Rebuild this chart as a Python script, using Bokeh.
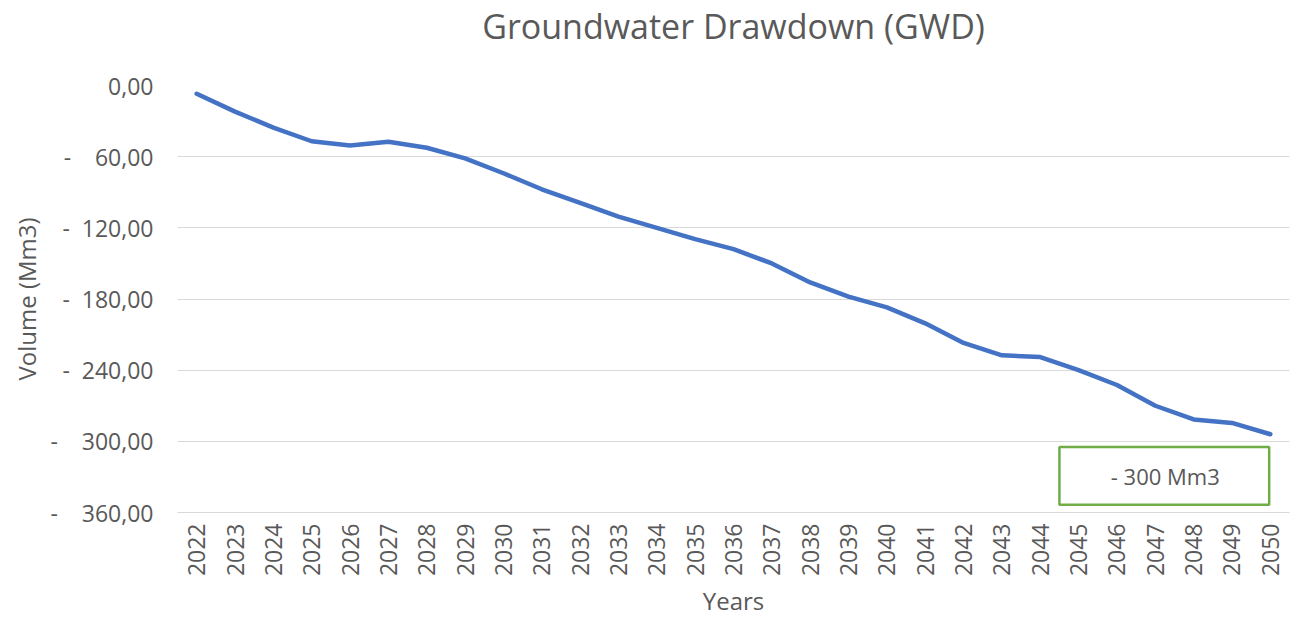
import math
from bokeh.plotting import figure
from bokeh.models import FactorRange, Range1d, FixedTicker, BoxAnnotation, Label, Title
from bokeh.embed import file_html
from bokeh.resources import INLINE

# ---- data ----
years = [str(y) for y in range(2022, 2051)]
drawdown = [-7, -22, -35.5, -47, -50.5, -47.5, -52.5, -61.5, -74, -87.5,
            -99, -110.5, -120, -129.5, -138, -150, -166, -178, -187, -200.5,
            -217, -227.5, -229, -240, -252.5, -270, -281.5, -284.5, -294]
y_ticks = [0, -60, -120, -180, -240, -300, -360]
y_tick_labels = ["0,00", "-    60,00", "-  120,00", "-  180,00", "-  240,00",
                 "-    300,00", "-    360,00"]
title_text = "Groundwater Drawdown (GWD)"
x_title = "Years"
y_title = "Volume (Mm3)"
note_text = "- 300 Mm3"

FONT = "Open Sans"
GREY = "#595959"

p = figure(x_range=FactorRange(factors=years), y_range=Range1d(-360, 0),
           width=1294, height=620, output_backend="svg", toolbar_location=None,
           title=None,
           min_border_left=177, min_border_right=5, min_border_top=85,
           min_border_bottom=107)

p.outline_line_color = None
p.background_fill_color = "white"
p.border_fill_color = "white"

# spacer (nearest the frame) then the real title
p.add_layout(Title(text=" ", text_font_size="2px", standoff=33), "above")
p.add_layout(Title(text=title_text, align="center", text_font=FONT,
                   text_font_size="34px", text_font_style="normal",
                   text_color=GREY, standoff=0), "above")

p.line(x=years, y=drawdown, line_color="#4472C4", line_width=4.5,
       line_join="round", line_cap="round")

# x axis
xa = p.xaxis[0]
xa.axis_label = x_title
xa.major_label_orientation = math.pi / 2
xa.axis_line_color = "#D9D9D9"
xa.axis_line_width = 1
xa.major_tick_line_color = None
xa.minor_tick_line_color = None
xa.major_tick_out = 0
xa.major_tick_in = 0
xa.major_label_standoff = 11
xa.axis_label_standoff = 5
xa.major_label_text_font = FONT
xa.major_label_text_font_size = "23px"
xa.major_label_text_color = GREY
xa.axis_label_text_font = FONT
xa.axis_label_text_font_size = "24px"
xa.axis_label_text_font_style = "normal"
xa.axis_label_text_color = GREY
p.xgrid.visible = False

# y axis
ya = p.yaxis[0]
ya.axis_label = y_title
ya.ticker = FixedTicker(ticks=y_ticks)
ya.major_label_overrides = {t: l.replace(" ", "\u00a0") for t, l in zip(y_ticks, y_tick_labels)}
ya.axis_line_color = None
ya.major_tick_line_color = None
ya.minor_tick_line_color = None
ya.major_tick_out = 0
ya.major_tick_in = 0
ya.major_label_standoff = 24
ya.axis_label_standoff = 4
ya.major_label_text_font = FONT
ya.major_label_text_font_size = "23px"
ya.major_label_text_color = GREY
ya.axis_label_text_font = FONT
ya.axis_label_text_font_size = "24px"
ya.axis_label_text_font_style = "normal"
ya.axis_label_text_color = GREY
p.ygrid.ticker = FixedTicker(ticks=y_ticks)
p.ygrid.grid_line_color = "#D9D9D9"
p.ygrid.grid_line_width = 1

# annotation box
box = BoxAnnotation(left=23.0, right=28.47, top=-304.7, bottom=-353.5,
                    fill_alpha=0, line_color="#70AD47", line_alpha=1.0,
                    line_width=2.5)
p.add_layout(box)
p.add_layout(Label(x=25.76, y=-329, text=note_text, text_align="center",
                   text_baseline="middle", text_font=FONT, text_font_size="22px",
                   text_color=GREY))

open("out.html", "w").write(file_html(p, INLINE))
